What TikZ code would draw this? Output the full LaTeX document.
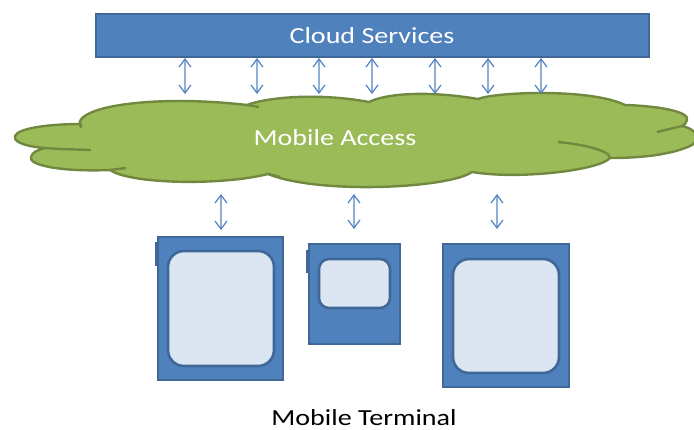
\documentclass[tikz,border=0pt]{standalone}
\usepackage{fontspec}
\setmainfont[FakeStretch=1.22]{Carlito}
\usetikzlibrary{arrows.meta}
\definecolor{boxblue}{HTML}{4F81BD}
\definecolor{boxedge}{HTML}{3F6797}
\definecolor{screenfill}{HTML}{DCE6F2}
\definecolor{cloudfill}{HTML}{9BBB59}
\definecolor{cloudedge}{HTML}{71893F}
\definecolor{linkblue}{HTML}{8FAFD8}
\tikzset{
  bluebox/.style={draw=boxedge,fill=boxblue,line width=2.6pt,inner sep=0pt,rectangle},
  screenbox/.style={draw=boxedge,fill=screenfill,line width=2.6pt,inner sep=0pt,rectangle,rounded corners=#1},
  tabbox/.style={draw=none,fill=boxedge,inner sep=0pt,rectangle},
  cloudline/.style={draw=cloudedge,line width=2.4pt,line join=round},
  link/.style={draw=linkblue,line width=1.4pt,
    {Straight Barb[length=8pt,width=12pt,line width=1.2pt,color=boxblue]}-{Straight Barb[length=8pt,width=12pt,line width=1.2pt,color=boxblue]}},
  whitelabel/.style={text=white,font=\fontsize{23}{26}\selectfont,inner sep=0pt},
  blacklabel/.style={text=black,font=\fontsize{23}{26}\selectfont,inner sep=0pt}
}
\begin{document}
\begin{tikzpicture}[x=1pt,y=-1pt]
\useasboundingbox (0,0) rectangle (694,429);
% cloud
\path[fill=cloudfill,cloudline]
  (81,127) .. controls (72,114) and (110,101) .. (180,101)
  .. controls (205,101) and (230,103) .. (247,105)
  .. controls (265,98) and (315,92) .. (369,102)
  .. controls (385,94) and (425,90) .. (478,99)
  .. controls (495,92) and (590,88) .. (625,105)
  .. controls (660,106) and (690,112) .. (687,120)
  .. controls (687,123) and (684,125) .. (682,126)
  .. controls (700,130) and (700,142) .. (690,146)
  .. controls (670,155) and (640,158) .. (610,158)
  .. controls (600,170) and (520,180) .. (472,172)
  .. controls (450,188) and (320,195) .. (268,174)
  .. controls (220,186) and (130,184) .. (110,170)
  .. controls (60,172) and (28,165) .. (31,157)
  .. controls (32,152) and (38,150) .. (45,148)
  .. controls (20,146) and (13,140) .. (15,136)
  .. controls (18,128) and (50,124) .. (81,124) -- cycle;
\draw[cloudline] (91,150) -- (60,149) -- (45,148);
\draw[cloudline] (126,168) -- (110,170);
\draw[cloudline] (259,107) -- (247,105);
\draw[cloudline] (657,132) -- (682,126);
\draw[cloudline] (558,142) .. controls (580,144) and (610,150) .. (610,158);
\draw[cloudline] (268,174) -- (280,177);
% boxes
\node[bluebox,minimum width=553pt,minimum height=43pt] (bar) at (372.5,35.5) {};
\node[whitelabel] (cloudtext) at (372,36) {Cloud Services};
\node[whitelabel] (accesstext) at (335,138) {Mobile Access};

\node[tabbox,minimum width=4pt,minimum height=24pt] (tabA) at (156.5,254) {};
\node[bluebox,minimum width=125pt,minimum height=143pt] (devA) at (220.5,308.5) {};
\node[screenbox=16pt,minimum width=106pt,minimum height=115pt] (scrA) at (221,308.5) {};

\node[tabbox,minimum width=4pt,minimum height=23pt] (tabB) at (307.5,261) {};
\node[bluebox,minimum width=91pt,minimum height=100pt] (devB) at (354.5,294) {};
\node[screenbox=10pt,minimum width=71pt,minimum height=49pt] (scrB) at (354.5,283.5) {};

\node[bluebox,minimum width=126pt,minimum height=143pt] (devC) at (506,315.5) {};
\node[screenbox=16pt,minimum width=106pt,minimum height=114pt] (scrC) at (506,316) {};

\node[blacklabel] (termtext) at (364,417.5) {Mobile Terminal};

% links
\foreach \n/\x in {a/185,b/257,c/319,d/372,e/435,f/488,g/541}{
  \coordinate (u\n) at (\x,58);
  \coordinate (l\n) at (\x,94);
  \draw[link] (u\n) -- (l\n);
}
\coordinate (pA) at (221,194); \coordinate (qA) at (221,230);
\coordinate (pB) at (354,194); \coordinate (qB) at (354,229);
\coordinate (pC) at (497,194); \coordinate (qC) at (497,229);
\draw[link] (pA) -- (qA);
\draw[link] (pB) -- (qB);
\draw[link] (pC) -- (qC);
\end{tikzpicture}
\end{document}
